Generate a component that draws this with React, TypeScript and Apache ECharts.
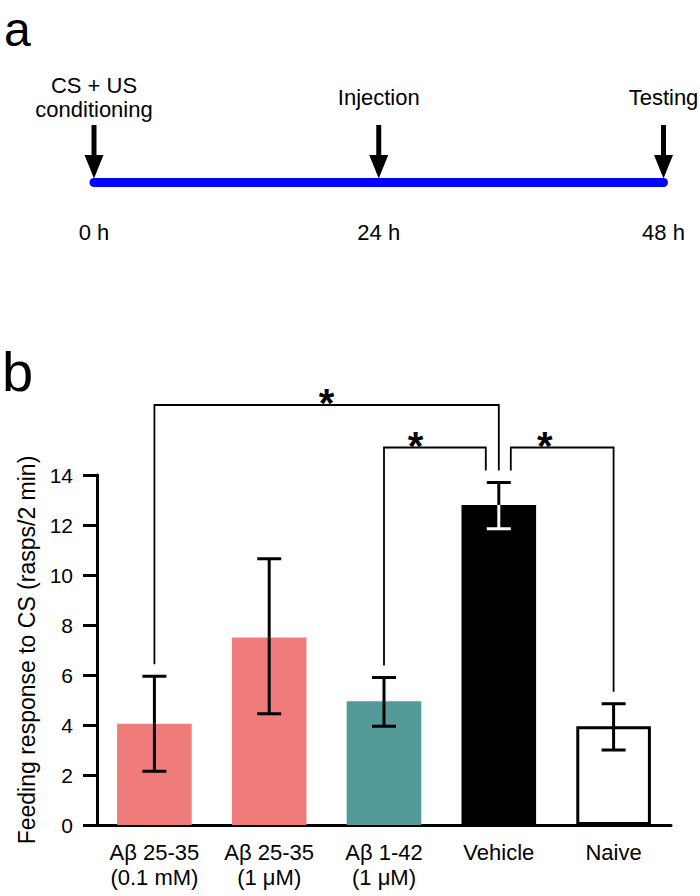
import React, { useEffect, useRef } from "react";
import * as echarts from "echarts";

// ---- Panel a: timeline data ----
const timePoints = [0, 24, 48];
const timeLabels = ["0 h", "24 h", "48 h"];
const eventLabels = ["CS + US\nconditioning", "Injection", "Testing"];

// ---- Panel b: bar chart data ----
const categories = [
  "Aβ 25-35\n(0.1 mM)",
  "Aβ 25-35\n(1 μM)",
  "Aβ 1-42\n(1 μM)",
  "Vehicle",
  "Naive",
];
const means = [4.05, 7.5, 4.95, 12.8, 3.95];
const errLow = [2.15, 4.45, 3.95, 11.85, 3.0];
const errHigh = [5.95, 10.65, 5.9, 13.7, 4.85];
const yMin = 0;
const yMax = 14;
const yInterval = 2;
// significance brackets: [from category, to category, bracket height]
const brackets = [
  [0, 3, 16.8],
  [2, 3, 15.1],
  [3, 4, 15.1],
];
const sigMarks = ["*", "*", "*"];

// ---- styles ----
const FONT = "'Liberation Sans', Arial, Helvetica, sans-serif";
const barFills = ["#F07B7B", "#F07B7B", "#539A99", "#000000", "#FFFFFF"];
const bracketEndShift = [
  [0, 0],
  [0, -13],
  [12, 0],
];
const starFrac = [0.5, 0.31, 0.33];

export default function App() {
  const ref = useRef<HTMLDivElement>(null);

  useEffect(() => {
    if (!ref.current) return;
    const chart = echarts.init(ref.current, undefined, { renderer: "svg" });

    const option: any = {
      animation: false,
      backgroundColor: "#ffffff",
      textStyle: { fontFamily: FONT, color: "#000" },
      grid: [
        { left: 97, right: 29, top: 475, bottom: 71 },
        { left: 94, right: 36.5, top: 172.5, height: 20 },
      ],
      xAxis: [
        {
          gridIndex: 0,
          type: "category",
          data: categories,
          axisLine: { show: true, lineStyle: { color: "#000", width: 3 } },
          axisTick: { show: false },
          axisLabel: {
            interval: 0,
            color: "#000",
            fontSize: 22,
            lineHeight: 25,
            margin: 15,
            fontFamily: FONT,
          },
          splitLine: { show: false },
        },
        {
          gridIndex: 1,
          type: "value",
          min: 0,
          max: 48,
          interval: 24,
          axisLine: { show: false },
          axisTick: { show: false },
          splitLine: { show: false },
          axisLabel: {
            color: "#000",
            fontSize: 22,
            margin: 29,
            fontFamily: FONT,
            formatter: (v: number) => {
              const k = timePoints.indexOf(v);
              return k >= 0 ? timeLabels[k] : "";
            },
          },
        },
      ],
      yAxis: [
        {
          gridIndex: 0,
          type: "value",
          min: yMin,
          max: yMax,
          interval: yInterval,
          name: "Feeding response to CS (rasps/2 min)",
          nameLocation: "middle",
          nameGap: 56,
          nameTextStyle: { color: "#000", fontSize: 23, fontFamily: FONT },
          axisLine: { show: true, lineStyle: { color: "#000", width: 3 } },
          axisTick: { show: true, length: 14, lineStyle: { color: "#000", width: 3 } },
          axisLabel: { color: "#000", fontSize: 21, margin: 24, fontFamily: FONT },
          splitLine: { show: false },
        },
        {
          gridIndex: 1,
          type: "value",
          min: -1,
          max: 1,
          show: false,
        },
      ],
      series: [
        {
          type: "bar",
          xAxisIndex: 0,
          yAxisIndex: 0,
          barWidth: "65%",
          data: means.map((m, i) => ({
            value: m,
            itemStyle:
              barFills[i] === "#FFFFFF"
                ? { color: "#FFFFFF", borderColor: "#000", borderWidth: 3 }
                : { color: barFills[i] },
          })),
          z: 2,
        },
        {
          type: "custom",
          xAxisIndex: 0,
          yAxisIndex: 0,
          z: 5,
          encode: { x: 0, y: [1, 2] },
          data: means.map((m, i) => [i, errLow[i], errHigh[i], m]),
          renderItem: (params: any, api: any) => {
            const i = api.value(0);
            const lo = api.value(1);
            const hi = api.value(2);
            const m = api.value(3);
            const pTop = api.coord([i, hi]);
            const pBot = api.coord([i, lo]);
            const pMid = api.coord([i, m]);
            const inner = barFills[i] === "#000000" ? "#FFFFFF" : "#000000";
            const half = 12;
            const lw = 3;
            const x = pTop[0];
            return {
              type: "group",
              children: [
                {
                  type: "line",
                  shape: { x1: x, y1: pTop[1], x2: x, y2: pMid[1] },
                  style: { stroke: "#000", lineWidth: lw },
                },
                {
                  type: "line",
                  shape: { x1: x, y1: pMid[1], x2: x, y2: pBot[1] },
                  style: { stroke: inner, lineWidth: lw },
                },
                {
                  type: "line",
                  shape: { x1: x - half, y1: pTop[1], x2: x + half, y2: pTop[1] },
                  style: { stroke: "#000", lineWidth: lw },
                },
                {
                  type: "line",
                  shape: { x1: x - half, y1: pBot[1], x2: x + half, y2: pBot[1] },
                  style: { stroke: inner, lineWidth: lw },
                },
              ],
            };
          },
        },
        {
          type: "custom",
          xAxisIndex: 0,
          yAxisIndex: 0,
          z: 6,
          clip: false,
          encode: { x: 0, y: 2 },
          data: brackets,
          renderItem: (params: any, api: any) => {
            const k = params.dataIndex;
            const a = api.value(0);
            const b = api.value(1);
            const lvl = api.value(2);
            const pa = api.coord([a, lvl]);
            const pb = api.coord([b, lvl]);
            const xa = pa[0] + bracketEndShift[k][0];
            const xb = pb[0] + bracketEndShift[k][1];
            const y = pa[1];
            const gap = 12;
            const ya = api.coord([a, errHigh[a]])[1] - gap;
            const yb = api.coord([b, errHigh[b]])[1] - gap;
            return {
              type: "group",
              children: [
                {
                  type: "polyline",
                  shape: {
                    points: [
                      [xa, ya],
                      [xa, y],
                      [xb, y],
                      [xb, yb],
                    ],
                  },
                  style: { stroke: "#000", lineWidth: 1.8, fill: null },
                },
                {
                  type: "text",
                  x: xa + (xb - xa) * starFrac[k],
                  y: y - 2,
                  style: {
                    text: sigMarks[k],
                    fontSize: 40,
                    fontWeight: "bold",
                    fontFamily: FONT,
                    fill: "#000",
                    align: "center",
                    verticalAlign: "middle",
                  },
                },
              ],
            };
          },
        },
        {
          type: "line",
          xAxisIndex: 1,
          yAxisIndex: 1,
          symbol: "none",
          data: [
            [timePoints[0], 0],
            [timePoints[timePoints.length - 1], 0],
          ],
          lineStyle: { color: "#0000FF", width: 9, cap: "round" },
          z: 2,
        },
        {
          type: "custom",
          xAxisIndex: 1,
          yAxisIndex: 1,
          clip: false,
          z: 5,
          data: timePoints.map((t) => [t, 0]),
          renderItem: (params: any, api: any) => {
            const k = params.dataIndex;
            const p = api.coord([api.value(0), 0]);
            const x = p[0];
            const y = p[1];
            return {
              type: "group",
              children: [
                {
                  type: "rect",
                  shape: { x: x - 2.5, y: y - 57.5, width: 5, height: 31 },
                  style: { fill: "#000" },
                },
                {
                  type: "polygon",
                  shape: {
                    points: [
                      [x - 9.5, y - 27.5],
                      [x + 9.5, y - 27.5],
                      [x, y - 4],
                    ],
                  },
                  style: { fill: "#000" },
                },
                {
                  type: "text",
                  x: x,
                  y: y - 85.5,
                  style: {
                    text: eventLabels[k],
                    fontSize: 22,
                    lineHeight: 24,
                    fontFamily: FONT,
                    fill: "#000",
                    align: "center",
                    verticalAlign: "middle",
                  },
                },
              ],
            };
          },
        },
      ],
      graphic: [
        {
          type: "text",
          left: 4,
          top: 5,
          style: { text: "a", fontSize: 48, fontFamily: FONT, fill: "#000" },
        },
        {
          type: "text",
          left: 2,
          top: 343,
          style: { text: "b", fontSize: 56, fontFamily: FONT, fill: "#000" },
        },
      ],
    };

    chart.setOption(option);
    return () => chart.dispose();
  }, []);

  return (
    <div
      ref={ref}
      style={{ position: "fixed", left: 0, top: 0, width: 700, height: 896, background: "#fff" }}
    />
  );
}
